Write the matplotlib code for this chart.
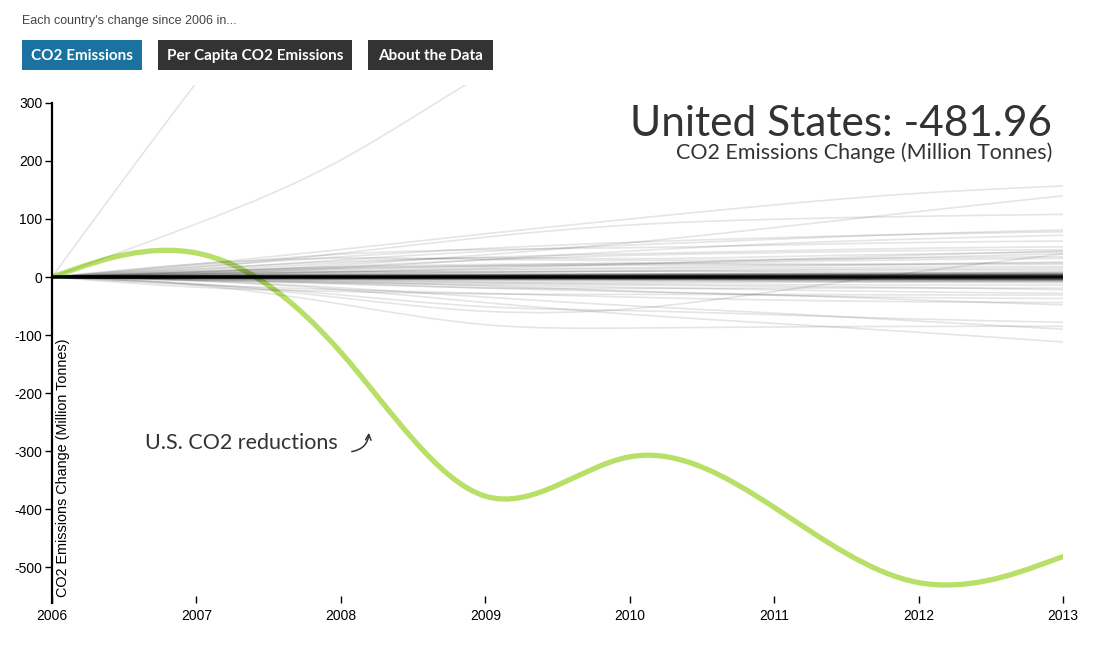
import matplotlib
matplotlib.use("Agg")
import matplotlib.pyplot as plt
from matplotlib.path import Path
from matplotlib.patches import PathPatch, Rectangle

# change in CO2 emissions since 2006, million tonnes (control points of the basis curve)
years = [2006, 2007, 2008, 2009, 2010, 2011, 2012, 2013]
us_change = [0, 86, -96, -481, -247, -391, -572, -481.96]
us_label = "United States: -481.96"

big_emitters = [
    [0, 340, 650, 1100, 1500, 1900, 2200, 2350],
    [0, 90, 190, 360, 480, 560, 650, 720],
]
mid_emitters = [
    [0, 22, 47, 75, 100, 125, 146, 157],
    [0, 8, 20, 38, 58, 85, 113, 140],
    [0, 15, 40, 70, 92, 100, 105, 108],
    [0, 12, 30, 45, 55, 65, 75, 81],
    [0, 18, 35, 50, 60, 68, 74, 78],
    [0, 5, 15, 30, 45, 58, 66, 72],
    [0, 20, 42, 48, 50, 55, 60, 62],
    [0, 10, 25, 35, 40, 45, 50, 52],
    [0, 8, 18, 30, 38, 42, 46, 47],
    [0, 14, 28, 35, 30, 35, 40, 43],
    [0, 25, 35, 30, 28, 30, 33, 35],
    [0, 6, 12, 18, 22, 26, 30, 32],
    [0, 10, 18, 22, 24, 22, 23, 24],
    [0, 4, 8, 12, 14, 16, 17, 18],
    [0, 6, 10, 8, 10, 11, 12, 12],
    [0, 3, 5, 4, 5, 6, 6, 6],
    [0, -5, -20, -45, -65, -80, -95, -112],
    [0, -10, -45, -90, -88, -86, -85, -85],
    [0, -5, -18, -35, -50, -62, -76, -90],
    [0, -10, -30, -55, -57, -65, -73, -78],
    [0, -10, -35, -65, -60, -25, 10, 40],
    [0, -4, -10, -20, -25, -30, -40, -48],
    [0, -15, -22, -28, -35, -40, -43, -44],
    [0, -3, -8, -15, -25, -32, -36, -37],
    [0, -20, -25, -30, -30, -30, -31, -31],
    [0, -5, -12, -20, -20, -19, -19, -19],
    [0, -2, -6, -10, -12, -13, -14, -14],
    [0, -2, -4, -6, -7, -8, -8, -8],
    [0, 3, 6, 9, 10, 9, 8, 9],
    [0, -3, -5, -9, -10, -8, -9, -10],
    [0, 5, 9, 14, 16, 19, 22, 26],
    [0, -4, -8, -12, -14, -16, -18, -22],
    [0, 4, 9, 15, 22, 30, 38, 45],
    [0, 7, 14, 20, 24, 28, 34, 40],
    [0, -6, -10, -14, -18, -22, -26, -28],
    [0, 9, 16, 20, 20, 21, 21, 22],
    [0, 2, 5, 8, 11, 13, 14, 15],
]
small_emitters = [
    [0, 1, 2, 2.5, 3, 3.5, 4, 4],
    [0, -1, -1.5, -2, -2.5, -3, -3, -3.5],
    [0, 0.5, 1, 1.5, 1.5, 2, 2, 2.5],
    [0, -0.5, -1, -1.5, -1.5, -2, -2, -2.5],
    [0, 0.3, 0.6, 1, 1, 1.2, 1.5, 1.5],
    [0, -0.3, -0.6, -1, -1, -1.2, -1.5, -1.5],
    [0, 0.2, 0.4, 0.5, 0.6, 0.7, 0.8, 0.8],
    [0, -0.2, -0.4, -0.5, -0.6, -0.7, -0.8, -0.8],
    [0, 0.1, 0.1, 0.2, 0.2, 0.2, 0.3, 0.3],
    [0, -0.1, -0.1, -0.2, -0.2, -0.2, -0.3, -0.3],
    [0, 0, 0, 0, 0, 0, 0, 0],
    [0, 0, 0, 0, 0, 0, 0, 0],
    [0, 0, 0.1, 0, 0.1, 0, 0.1, 0],
    [0, 0, -0.1, 0, -0.1, 0, -0.1, 0],
    [0, 0.4, 0.8, 1, 1.2, 1.4, 1.6, 1.8],
    [0, -0.4, -0.8, -1, -1.2, -1.4, -1.6, -1.8],
    [0, 0.2, 0.3, 0.4, 0.4, 0.5, 0.5, 0.6],
    [0, -0.2, -0.3, -0.4, -0.4, -0.5, -0.5, -0.6],
    [0, 1, 1.5, 2, 2.5, 3, 3, 3.5],
    [0, -1, -2, -2.5, -3, -3.5, -4, -5],
    [0, 2, 3, 4, 5, 5, 6, 7],
    [0, -2, -3, -4, -4, -5, -6, -6],
    [0, 0.6, 0.8, 1, 1.2, 1.3, 1.4, 1.6],
    [0, -0.6, -0.8, -1, -1.2, -1.3, -1.4, -1.6],
    [0, 0, 0, 0.1, 0.1, 0.1, 0.1, 0.1],
    [0, 0, 0, -0.1, -0.1, -0.1, -0.1, -0.1],
    [0, 0.2, 0.4, 0.3, 0.2, 0.4, 0.5, 0.3],
    [0, -0.2, -0.4, -0.3, -0.2, -0.4, -0.5, -0.3],
    [0, 0.8, 1.5, 2, 2.2, 2.5, 2.8, 3],
    [0, -0.8, -1.5, -2, -2.2, -2.5, -2.8, -3],
    [0, 1.2, 2, 2.5, 2.8, 3, 3.2, 3.5],
    [0, -1.2, -2, -2.5, -2.8, -3, -3.2, -3.5],
    [0, 1.5, 2.5, 3.5, 4, 4.5, 5, 5.5],
    [0, -1.5, -2.5, -3.5, -4, -4.5, -5, -5.5],
]

y_ticks = [-500, -400, -300, -200, -100, 0, 100, 200, 300]
buttons = ["CO2 Emissions", "Per Capita CO2 Emissions", "About the Data"]

W, H = 1104, 655


def fx(px):
    return px / W


def fy(py):
    return 1 - py / H


def basis_path(xs, ys):
    # same construction as d3 curveBasis
    verts = [(xs[0], ys[0]), ((5 * xs[0] + xs[1]) / 6, (5 * ys[0] + ys[1]) / 6)]
    codes = [Path.MOVETO, Path.LINETO]
    pts = list(zip(xs, ys)) + [(xs[-1], ys[-1])]
    for i in range(2, len(pts)):
        (x0, y0), (x1, y1), (x, y) = pts[i - 2], pts[i - 1], pts[i]
        verts += [((2 * x0 + x1) / 3, (2 * y0 + y1) / 3),
                  ((x0 + 2 * x1) / 3, (y0 + 2 * y1) / 3),
                  ((x0 + 4 * x1 + x) / 6, (y0 + 4 * y1 + y) / 6)]
        codes += [Path.CURVE4] * 3
    verts.append((xs[-1], ys[-1]))
    codes.append(Path.LINETO)
    return Path(verts, codes)


fig = plt.figure(figsize=(W / 100, H / 100), dpi=100)
ax = fig.add_axes([fx(52), fy(603), fx(1063) - fx(52), fy(85) - fy(603)])
ax.set_xlim(2006, 2013)
ax.set_ylim(-562, 331)

ax.add_patch(PathPatch(basis_path(years, us_change), fill=False, edgecolor="#b8e068",
                       lw=3.8, capstyle="round", joinstyle="round", zorder=2))
for row in big_emitters + mid_emitters:
    ax.add_patch(PathPatch(basis_path(years, row), fill=False, edgecolor="black",
                           alpha=0.1, lw=1.2, zorder=3))
for row in small_emitters:
    ax.add_patch(PathPatch(basis_path(years, row), fill=False, edgecolor="black",
                           alpha=0.14, lw=1.8, zorder=3))

for s in ["top", "right", "bottom"]:
    ax.spines[s].set_visible(False)
ax.spines["left"].set_linewidth(1.6)
ax.spines["left"].set_bounds(-562, 300)
ax.set_yticks(y_ticks)
ax.set_yticklabels([str(v) for v in y_ticks])
ax.set_xticks(years)
ax.set_xticklabels([str(v) for v in years])
ax.tick_params(axis="y", direction="out", length=5, width=1, pad=2, labelsize=10)
ax.tick_params(axis="x", direction="in", length=5, width=1, pad=4, labelsize=10)
for lab in ax.get_xticklabels() + ax.get_yticklabels():
    lab.set_family("Liberation Sans")
ax.patch.set_alpha(0)

fig.text(fx(63), fy(597), "CO2 Emissions Change (Million Tonnes)", rotation=90,
         ha="center", va="bottom", fontsize=10.4, family="Liberation Sans")

# header
fig.text(fx(22), fy(21), "Each country's change since 2006 in...", ha="left", va="center",
         fontsize=9, family="Liberation Sans", color="#444444")
btn_x = [(22, 142), (158, 352), (368, 493)]
btn_col = ["#1a72a0", "#333333", "#333333"]
for (x0, x1), c, t in zip(btn_x, btn_col, buttons):
    fig.add_artist(Rectangle((fx(x0), fy(70)), fx(x1) - fx(x0), fy(40) - fy(70),
                             transform=fig.transFigure, color=c, lw=0))
    fig.text(fx((x0 + x1) / 2), fy(56), t, ha="center", va="center", color="white",
             fontsize=11, family="Lato", weight="bold")

fig.text(fx(1052), fy(136), us_label, ha="right", va="baseline", fontsize=30.5,
         family="Lato", color="#333333")
fig.text(fx(1052), fy(159), "CO2 Emissions Change (Million Tonnes)", ha="right",
         va="baseline", fontsize=15.5, family="Lato", color="#333333")

fig.text(fx(145), fy(449), "U.S. CO2 reductions", ha="left", va="baseline", fontsize=15.5,
         family="Lato", color="#333333")
ax.annotate("", xy=(fx(369), fy(430)), xytext=(fx(349), fy(452)),
            xycoords="figure fraction", textcoords="figure fraction",
            arrowprops=dict(arrowstyle="->", color="#333333", lw=1.1,
                            connectionstyle="arc3,rad=0.45"))

fig.savefig("out.png", dpi=100)
